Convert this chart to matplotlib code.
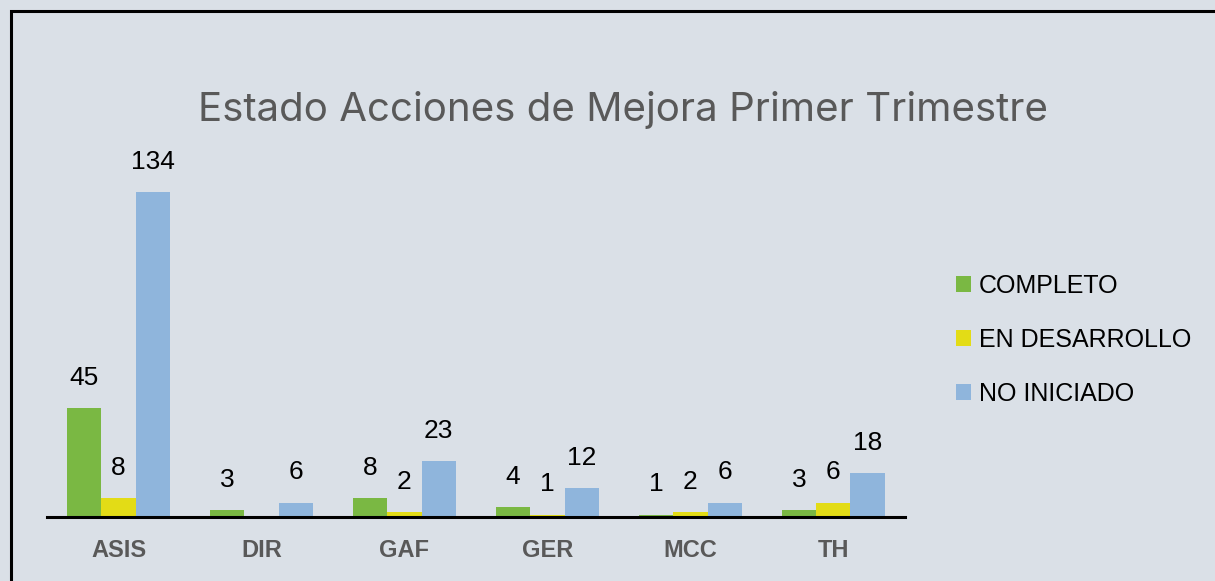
import matplotlib.pyplot as plt
import numpy as np
from matplotlib.patches import Rectangle

categorias = ['ASIS', 'DIR', 'GAF', 'GER', 'MCC', 'TH']
completo = [45, 3, 8, 4, 1, 3]
en_desarrollo = [8, 0, 2, 1, 2, 6]
no_iniciado = [134, 6, 23, 12, 6, 18]

series = [('COMPLETO', completo, '#7ab843'),
          ('EN DESARROLLO', en_desarrollo, '#e3dc16'),
          ('NO INICIADO', no_iniciado, '#8fb5dc')]

plt.rcParams['font.family'] = ['Liberation Sans', 'DejaVu Sans']
fondo = '#dae0e7'

fig = plt.figure(figsize=(12.15, 5.81), dpi=100, facecolor=fondo)
ax = fig.add_axes([0.0387, 0.110, 0.706, 0.584])
ax.set_facecolor(fondo)

x = np.arange(len(categorias))
w = 0.24
for i, (nombre, vals, color) in enumerate(series):
    pos = x + (i - 1) * w
    barras = ax.bar(pos, vals, w, color=color, label=nombre)
    for b, v in zip(barras, vals):
        if v == 0:
            continue
        ax.text(b.get_x() + b.get_width() / 2, v + 7.5, str(v),
                ha='center', va='bottom', fontsize=19, color='black')

ax.set_xlim(-0.5, 5.5)
ax.set_ylim(0, 140)
ax.set_xticks(x)
ax.set_xticklabels(categorias, fontsize=17, fontweight='bold', color='#595959')
ax.tick_params(axis='x', length=0, pad=16)
ax.set_yticks([])
for lado in ['top', 'right', 'left']:
    ax.spines[lado].set_visible(False)
ax.spines['bottom'].set_linewidth(2.2)
ax.spines['bottom'].set_color('black')

fig.text(0.513, 0.81, 'Estado Acciones de Mejora Primer Trimestre',
         ha='center', va='center', fontsize=29, color='#595959',
         family=['Inter', 'DejaVu Sans'])

fig.legend(loc='center left', bbox_to_anchor=(0.787, 0.415), frameon=False,
           fontsize=18, handlelength=0.6, handleheight=0.6, handletextpad=0.3,
           labelspacing=1.2, borderpad=0, borderaxespad=0)

fig.patches.append(Rectangle((0.009, -0.05), 1.05, 1.031, transform=fig.transFigure,
                             fill=False, edgecolor='black', linewidth=2.2))

fig.savefig('out.png', dpi=100, facecolor=fondo)
